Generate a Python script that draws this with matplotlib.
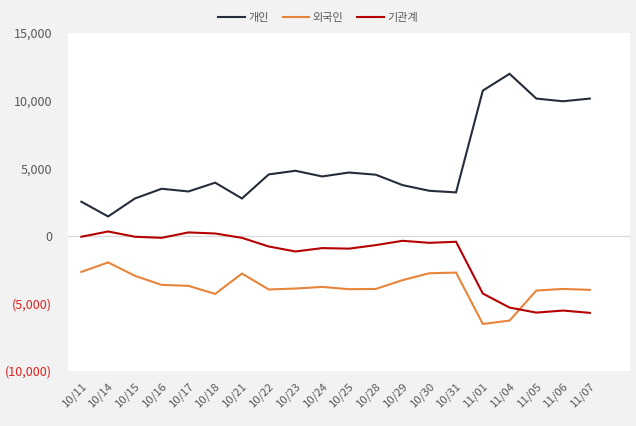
import matplotlib
matplotlib.use("Agg")
import matplotlib.pyplot as plt
from matplotlib.ticker import FuncFormatter

plt.rcParams['font.family'] = ['Noto Sans CJK KR', 'DejaVu Sans']

dates = ["10/11", "10/14", "10/15", "10/16", "10/17", "10/18", "10/21", "10/22",
         "10/23", "10/24", "10/25", "10/28", "10/29", "10/30", "10/31", "11/01",
         "11/04", "11/05", "11/06", "11/07"]
individual = [2520, 1430, 2760, 3480, 3280, 3930, 2760, 4540, 4810, 4390,
              4680, 4520, 3750, 3330, 3210, 10740, 11980, 10150, 9950, 10150]
foreign = [-2670, -1970, -2960, -3630, -3700, -4300, -2790, -3970, -3900, -3780,
           -3950, -3930, -3280, -2770, -2720, -6520, -6270, -4050, -3930, -4000]
institution = [-70, 320, -70, -150, 250, 170, -150, -790, -1160, -910,
               -950, -690, -370, -520, -440, -4270, -5310, -5680, -5530, -5700]

series_names = ["개인", "외국인", "기관계"]
colors = ["#252c3a", "#e8843a", "#b40000"]

fig = plt.figure(figsize=(6.36, 4.26), dpi=100, facecolor="#f2f2f2")
ax = fig.add_axes([68/636, 1-371/426, (630-68)/636, (371-33)/426])
ax.set_facecolor("white")

x = list(range(len(dates)))
for vals, name, c in zip([individual, foreign, institution], series_names, colors):
    ax.plot(x, vals, color=c, lw=1.5, label=name, solid_joinstyle="miter")

ax.axhline(0, color="#d9d9d9", lw=0.9, zorder=0)
ax.set_ylim(-10000, 15000)
ax.set_xlim(-0.5, 20.5)
ax.set_yticks(range(-10000, 15001, 5000))

def fmt(v, pos):
    v = int(round(v))
    if v < 0:
        return "({:,})".format(-v)
    return "{:,}".format(v)
ax.yaxis.set_major_formatter(FuncFormatter(fmt))

ax.set_xticks(x)
ax.set_xticklabels(dates, rotation=45, ha="right", rotation_mode="anchor")
ax.tick_params(axis="both", length=0, colors="#595959")
ax.tick_params(axis="y", pad=11.5, labelsize=9)
ax.tick_params(axis="x", pad=7, labelsize=8.2)
for lbl, v in zip(ax.get_yticklabels(), ax.get_yticks()):
    lbl.set_color("#e02020" if v < 0 else "#595959")
for s in ax.spines.values():
    s.set_visible(False)

leg = fig.legend(loc="center", bbox_to_anchor=(0.5, 1-18/426), ncol=3, frameon=False,
                 fontsize=8, handlelength=2.4, columnspacing=1.25, handletextpad=0.3)
for t in leg.get_texts():
    t.set_color("#595959")

fig.savefig("out.png", dpi=100, facecolor=fig.get_facecolor())
